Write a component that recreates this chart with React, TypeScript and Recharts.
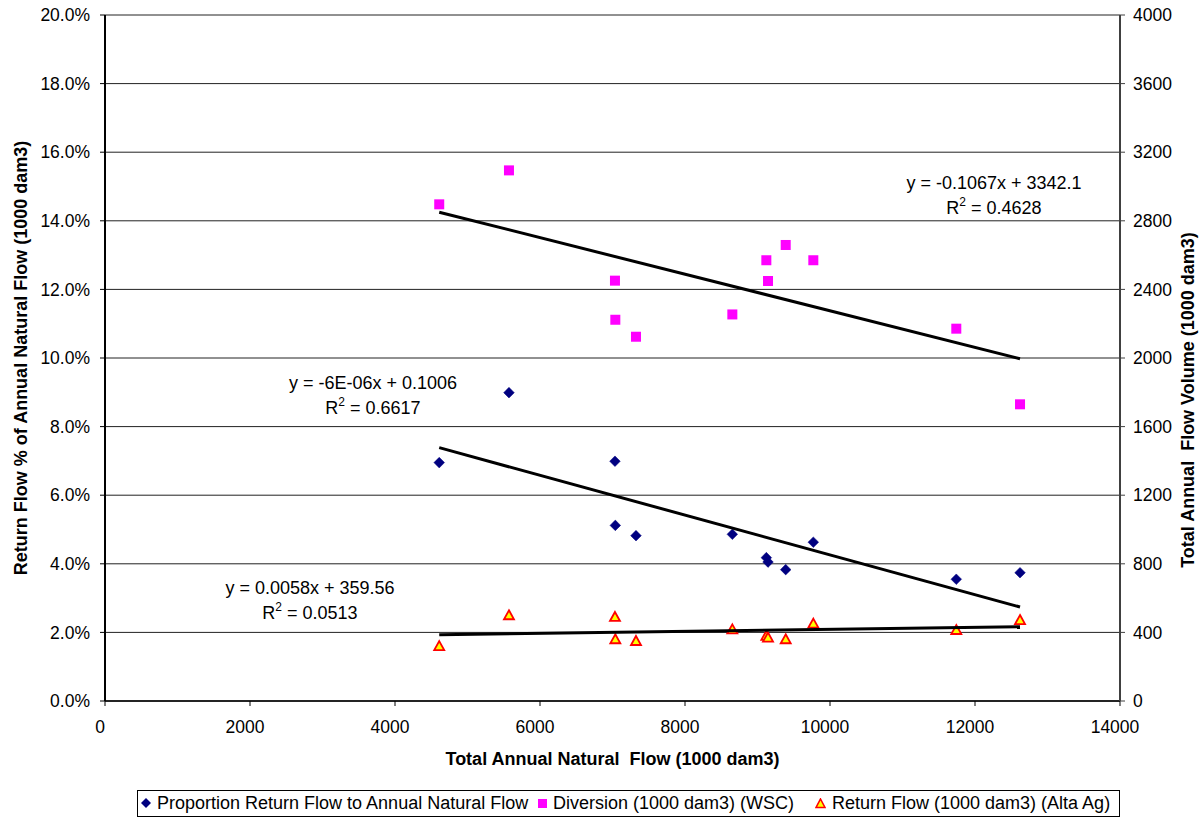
import React from "react";
import {
  ScatterChart,
  Scatter,
  XAxis,
  YAxis,
  CartesianGrid,
  Label,
} from "recharts";

// ---- data ----
const naturalFlow = [4610, 5572, 7034, 7039, 7324, 8653, 9122, 9145, 9389, 9770, 11742, 12621];
const proportion = [0.0695, 0.0899, 0.0699, 0.0512, 0.0482, 0.0486, 0.0418, 0.0405, 0.0383, 0.0463, 0.0355, 0.0374];
const diversion = [2896, 3094, 2451, 2223, 2124, 2254, 2570, 2449, 2659, 2570, 2171, 1730];
const returnFlow = [320, 500, 490, 360, 350, 418, 380, 370, 360, 451, 414, 472];

// trend line coefficients (slope, intercept)
const propTrend = [-5.8e-6, 0.1006];
const divTrend = [-0.1067, 3342.1];
const retTrend = [0.0058, 359.56];

const xTicks = [0, 2000, 4000, 6000, 8000, 10000, 12000, 14000];
const leftTicks = [0, 0.02, 0.04, 0.06, 0.08, 0.1, 0.12, 0.14, 0.16, 0.18, 0.2];
const rightTicks = [0, 400, 800, 1200, 1600, 2000, 2400, 2800, 3200, 3600, 4000];

const seriesNames = [
  "Proportion Return Flow to Annual Natural Flow",
  "Diversion (1000 dam3) (WSC)",
  "Return Flow (1000 dam3) (Alta Ag)",
];

const equations = [
  { eq: "y = -0.1067x + 3342.1", r2: "0.4628" },
  { eq: "y = -6E-06x + 0.1006", r2: "0.6617" },
  { eq: "y = 0.0058x + 359.56", r2: "0.0513" },
];

const NAVY = "#000080";
const MAGENTA = "#FF00FF";
const RED = "#FF0000";
const YELLOW = "#FFFF00";
const FONT = "'Liberation Sans', Arial, Helvetica, sans-serif";

const propData = naturalFlow.map((x, i) => ({ x, y: proportion[i] }));
const divData = naturalFlow.map((x, i) => ({ x, y: diversion[i] }));
const retData = naturalFlow.map((x, i) => ({ x, y: returnFlow[i] }));

const xMin = Math.min(...naturalFlow);
const xMax = Math.max(...naturalFlow);
const trendPoints = (c: number[]) => [
  { x: xMin, y: c[0] * xMin + c[1] },
  { x: xMax, y: c[0] * xMax + c[1] },
];

const DiamondShape = (props: any) => {
  const { cx, cy } = props;
  const r = 5.3;
  return (
    <path
      d={`M${cx},${cy - r}L${cx + r},${cy}L${cx},${cy + r}L${cx - r},${cy}Z`}
      fill={NAVY}
      stroke={NAVY}
      strokeWidth={0.5}
    />
  );
};

const SquareShape = (props: any) => {
  const { cx, cy } = props;
  return <rect x={cx - 5} y={cy - 5} width={10} height={10} fill={MAGENTA} />;
};

const TriangleShape = (props: any) => {
  const { cx, cy } = props;
  return (
    <path
      d={`M${cx},${cy - 5}L${cx + 5},${cy + 4}L${cx - 5},${cy + 4}Z`}
      fill={YELLOW}
      stroke={RED}
      strokeWidth={1.8}
      strokeLinejoin="miter"
    />
  );
};

const NoShape = () => <g />;

const EqLabel = ({ cx, cy, eq, r2 }: { cx: number; cy: number; eq: string; r2: string }) => (
  <div
    style={{
      position: "absolute",
      left: cx - 150,
      top: cy - 11,
      width: 300,
      textAlign: "center",
      fontSize: 18,
      lineHeight: "25px",
      color: "#000",
      whiteSpace: "pre",
    }}
  >
    <div>{eq}</div>
    <div>
      R<span style={{ fontSize: 12, position: "relative", top: -8 }}>2</span> = {r2}
    </div>
  </div>
);

export default function App() {
  return (
    <div
      style={{
        position: "absolute",
        left: 0,
        top: 0,
        width: 1203,
        height: 820,
        background: "#fff",
        fontFamily: FONT,
      }}
    >
      <ScatterChart width={1203} height={820} margin={{ top: 15, right: 0, bottom: 0, left: 0 }}>
        <CartesianGrid
          yAxisId="left"
          vertical={false}
          horizontal={true}
          stroke="#222"
          strokeWidth={1}
          horizontalValues={leftTicks}
        />
        <XAxis
          type="number"
          dataKey="x"
          domain={[0, 14000]}
          ticks={xTicks}
          interval={0}
          height={119}
          tickSize={5}
          tickMargin={15}
          axisLine={{ stroke: "#000", strokeWidth: 1.5 }}
          tickLine={{ stroke: "#000" }}
          tick={{ fill: "#000", fontSize: 17.5, dx: -5 }}
        >
          <Label
            content={() => (
              <text
                x={612.5}
                y={759}
                textAnchor="middle"
                dominantBaseline="central"
                fontSize={18}
                fontWeight="bold"
                fill="#000"
                style={{ whiteSpace: "pre" }}
              >
                {"Total Annual Natural  Flow (1000 dam3)"}
              </text>
            )}
          />
        </XAxis>
        <YAxis
          yAxisId="left"
          type="number"
          dataKey="y"
          domain={[0, 0.2]}
          ticks={leftTicks}
          interval={0}
          width={105}
          tickSize={5}
          tickMargin={10}
          axisLine={{ stroke: "#000", strokeWidth: 2 }}
          tickLine={{ stroke: "#000" }}
          tick={{ fill: "#000", fontSize: 17.5 }}
          tickFormatter={(v: number) => (v * 100).toFixed(1) + "%"}
        >
          <Label
            content={() => (
              <text
                x={20.5}
                y={358}
                transform="rotate(-90 20.5 358)"
                textAnchor="middle"
                dominantBaseline="central"
                fontSize={18}
                fontWeight="bold"
                fill="#000"
              >
                Return Flow % of Annual Natural Flow (1000 dam3)
              </text>
            )}
          />
        </YAxis>
        <YAxis
          yAxisId="right"
          orientation="right"
          type="number"
          dataKey="y"
          domain={[0, 4000]}
          ticks={rightTicks}
          interval={0}
          width={83}
          tickSize={5}
          tickMargin={8}
          axisLine={{ stroke: "#404040", strokeWidth: 2 }}
          tickLine={{ stroke: "#404040" }}
          tick={{ fill: "#000", fontSize: 17.5 }}
        >
          <Label
            content={() => (
              <text
                x={1188}
                y={400}
                transform="rotate(-90 1188 400)"
                textAnchor="middle"
                dominantBaseline="central"
                fontSize={18}
                fontWeight="bold"
                fill="#000"
                style={{ whiteSpace: "pre" }}
              >
                {"Total Annual  Flow Volume (1000 dam3)"}
              </text>
            )}
          />
        </YAxis>

        <Scatter name={seriesNames[0]} data={propData} yAxisId="left" shape={DiamondShape} isAnimationActive={false} />
        <Scatter name={seriesNames[1]} data={divData} yAxisId="right" shape={SquareShape} isAnimationActive={false} />
        <Scatter name={seriesNames[2]} data={retData} yAxisId="right" shape={TriangleShape} isAnimationActive={false} />

        <Scatter
          data={trendPoints(divTrend)}
          yAxisId="right"
          line={{ stroke: "#000", strokeWidth: 3 }}
          shape={NoShape}
          isAnimationActive={false}
        />
        <Scatter
          data={trendPoints(propTrend)}
          yAxisId="left"
          line={{ stroke: "#000", strokeWidth: 3 }}
          shape={NoShape}
          isAnimationActive={false}
        />
        <Scatter
          data={trendPoints(retTrend)}
          yAxisId="right"
          line={{ stroke: "#000", strokeWidth: 3 }}
          shape={NoShape}
          isAnimationActive={false}
        />
      </ScatterChart>

      <EqLabel cx={994} cy={182} eq={equations[0].eq} r2={equations[0].r2} />
      <EqLabel cx={373} cy={382} eq={equations[1].eq} r2={equations[1].r2} />
      <EqLabel cx={310} cy={587} eq={equations[2].eq} r2={equations[2].r2} />

      {/* legend */}
      <div
        style={{
          position: "absolute",
          left: 137,
          top: 790,
          width: 981,
          height: 25,
          border: "1px solid #000",
          fontSize: 18,
          color: "#000",
        }}
      >
        <svg style={{ position: "absolute", left: 3, top: 7 }} width={10} height={10}>
          <path d="M5,0L10,5L5,10L0,5Z" fill={NAVY} />
        </svg>
        <span style={{ position: "absolute", left: 19, top: 1, whiteSpace: "nowrap", lineHeight: "22px" }}>
          {seriesNames[0]}
        </span>
        <svg style={{ position: "absolute", left: 400, top: 8 }} width={9} height={9}>
          <rect x={0} y={0} width={9} height={9} fill={MAGENTA} />
        </svg>
        <span style={{ position: "absolute", left: 415, top: 1, whiteSpace: "nowrap", lineHeight: "22px" }}>
          {seriesNames[1]}
        </span>
        <svg style={{ position: "absolute", left: 677, top: 7 }} width={11} height={11}>
          <path d="M5.5,1L10,9.5L1,9.5Z" fill={YELLOW} stroke={RED} strokeWidth={1.6} />
        </svg>
        <span style={{ position: "absolute", left: 694, top: 1, whiteSpace: "nowrap", lineHeight: "22px" }}>
          {seriesNames[2]}
        </span>
      </div>
    </div>
  );
}
